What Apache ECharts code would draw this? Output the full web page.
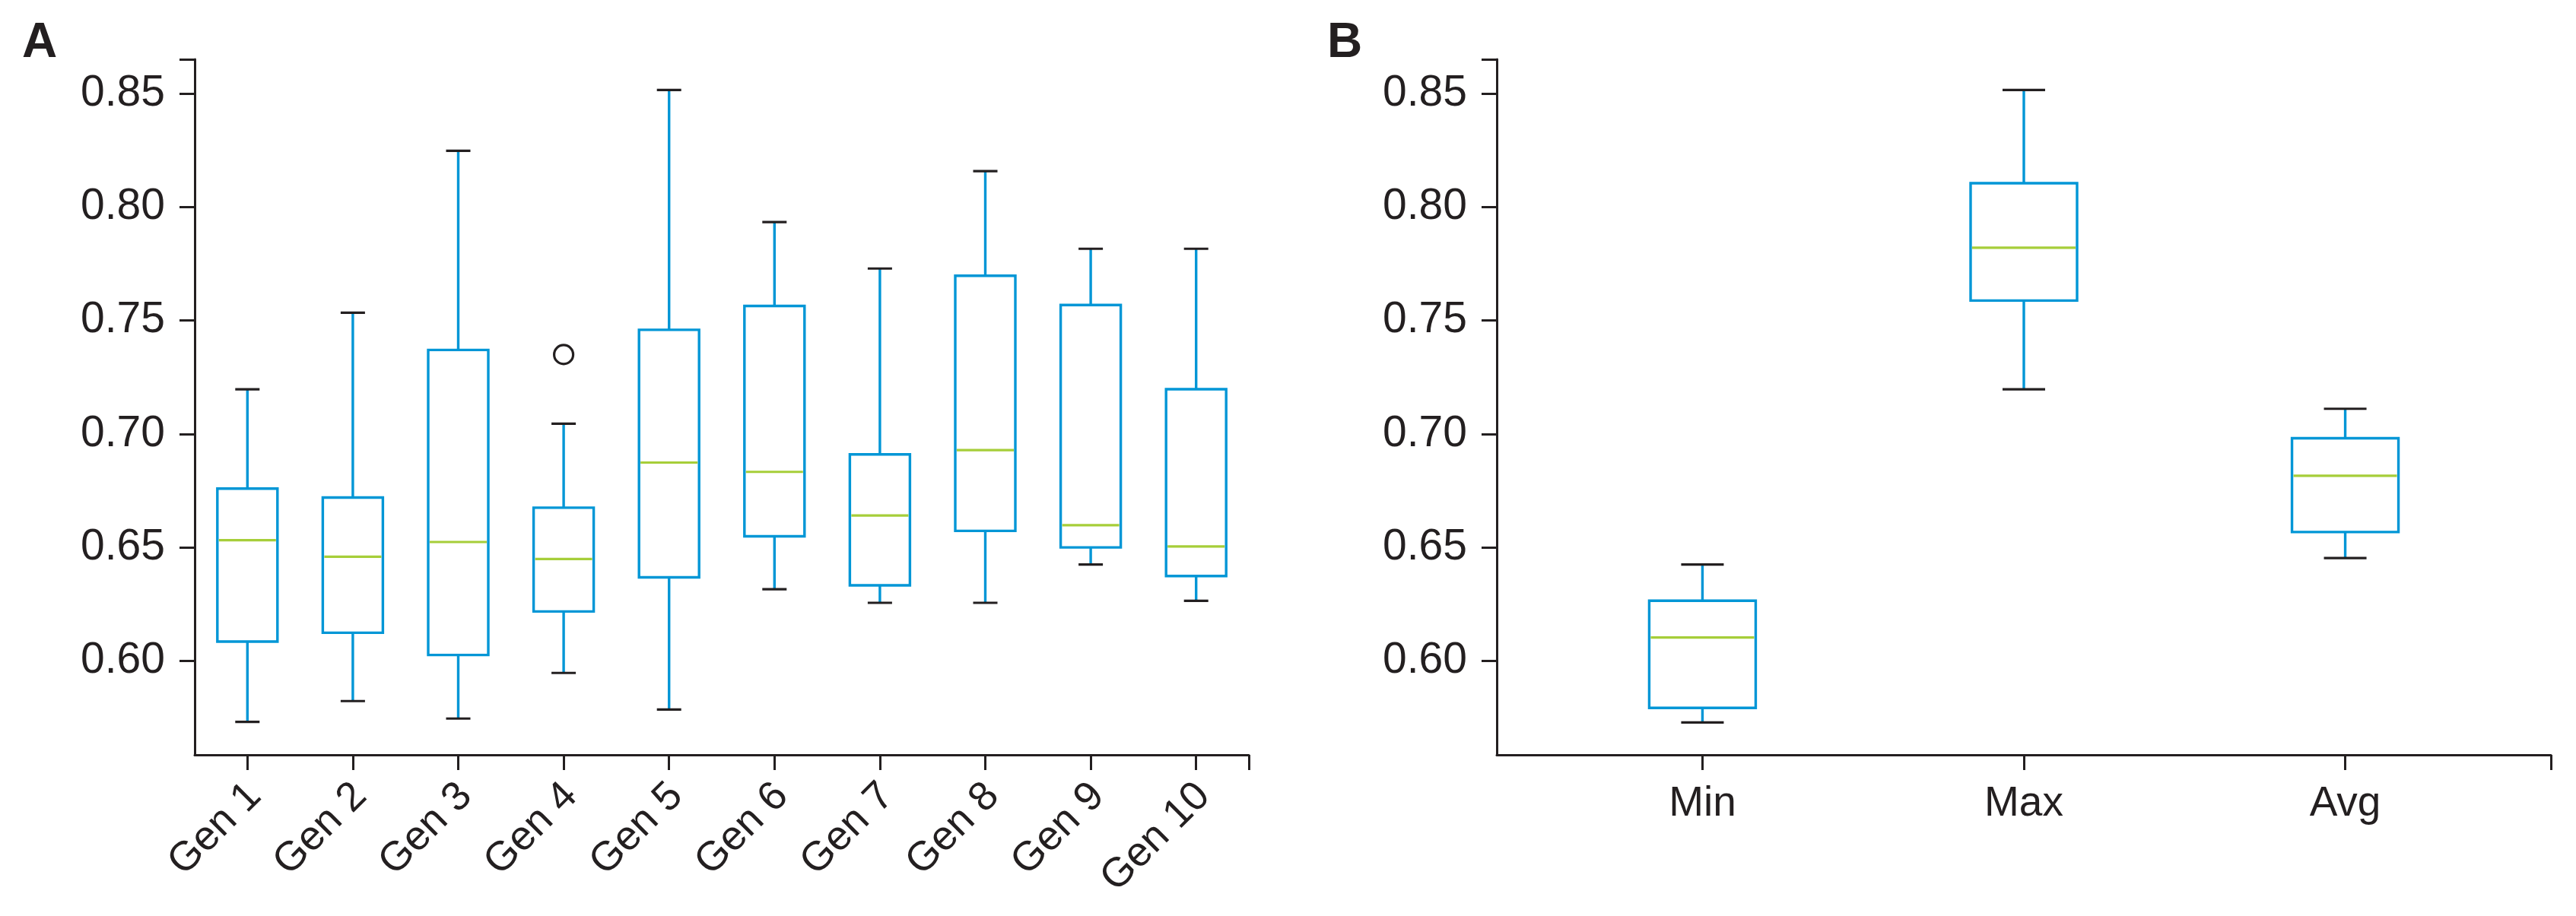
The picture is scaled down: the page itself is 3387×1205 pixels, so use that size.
<!DOCTYPE html>
<html>
<head>
<meta charset="utf-8">
<script src="https://cdn.jsdelivr.net/npm/echarts@6/dist/echarts.min.js"></script>
<style>
html,body{margin:0;padding:0;background:#fff;}
#chart{width:3387px;height:1205px;}
</style>
</head>
<body>
<div id="chart"></div>
<script>
// ---- Panel A data (per generation) ----
var genLabels = ['Gen 1','Gen 2','Gen 3','Gen 4','Gen 5','Gen 6','Gen 7','Gen 8','Gen 9','Gen 10'];
var genMin    = [0.5731, 0.5823, 0.5746, 0.5947, 0.5786, 0.6316, 0.6256, 0.6256, 0.6425, 0.6265];
var genQ1     = [0.6085, 0.6124, 0.6026, 0.6218, 0.6368, 0.6549, 0.6333, 0.6573, 0.6500, 0.6374];
var genMedian = [0.6532, 0.6459, 0.6524, 0.6449, 0.6874, 0.6833, 0.6641, 0.6929, 0.6598, 0.6504];
var genQ3     = [0.6759, 0.6720, 0.7370, 0.6675, 0.7459, 0.7564, 0.6910, 0.7697, 0.7568, 0.7197];
var genMax    = [0.7197, 0.7534, 0.8248, 0.7045, 0.8516, 0.7934, 0.7729, 0.8158, 0.7816, 0.7816];
var outlierGen   = ['Gen 4'];
var outlierValue = [0.735];

// ---- Panel B data (summary statistics) ----
var statLabels = ['Min','Max','Avg'];
var statMin    = [0.5729, 0.7197, 0.6453];
var statQ1     = [0.5793, 0.7588, 0.6568];
var statMedian = [0.6103, 0.7821, 0.6816];
var statQ3     = [0.6265, 0.8105, 0.6981];
var statMax    = [0.6425, 0.8516, 0.7111];

// ---- Axis ticks ----
var yTickLabels = [0.60, 0.65, 0.70, 0.75, 0.80, 0.85];
var yMin = 0.5586, yMax = 0.8651;

var BLUE = '#0096d6', GREEN = '#a6ce39', BLACK = '#231f20';
var FONT = '"Liberation Sans", Arial, Helvetica, sans-serif';
var LW = 3.4;

function buildBoxData(mins, q1s, meds, q3s, maxs) {
  return mins.map(function (v, i) { return [i + 1, v, q1s[i], meds[i], q3s[i], maxs[i]]; });
}

function makeRender(boxW, capW) {
  return function (params, api) {
    var x = api.value(0);
    var lo = api.coord([x, api.value(1)]);
    var q1 = api.coord([x, api.value(2)]);
    var md = api.coord([x, api.value(3)]);
    var q3 = api.coord([x, api.value(4)]);
    var hi = api.coord([x, api.value(5)]);
    var cx = lo[0], hb = boxW / 2, hc = capW / 2;
    return {
      type: 'group',
      children: [
        {type: 'line', shape: {x1: cx, y1: q1[1], x2: cx, y2: lo[1]}, style: {stroke: BLUE, lineWidth: LW}},
        {type: 'line', shape: {x1: cx, y1: q3[1], x2: cx, y2: hi[1]}, style: {stroke: BLUE, lineWidth: LW}},
        {type: 'line', shape: {x1: cx - hc, y1: lo[1], x2: cx + hc, y2: lo[1]}, style: {stroke: BLACK, lineWidth: 3.2}},
        {type: 'line', shape: {x1: cx - hc, y1: hi[1], x2: cx + hc, y2: hi[1]}, style: {stroke: BLACK, lineWidth: 3.2}},
        {type: 'rect', shape: {x: cx - hb, y: q3[1], width: boxW, height: q1[1] - q3[1]}, style: {fill: '#fff', stroke: BLUE, lineWidth: LW}},
        {type: 'line', shape: {x1: cx - hb + 2, y1: md[1], x2: cx + hb - 2, y2: md[1]}, style: {stroke: GREEN, lineWidth: 3.2}}
      ]
    };
  };
}

function yAxisCfg(gi) {
  return {
    type: 'value', gridIndex: gi, min: yMin, max: yMax,
    splitLine: {show: false},
    axisLine: {show: true, lineStyle: {color: BLACK, width: 3}},
    axisTick: {show: true, length: 20, inside: false, lineStyle: {color: BLACK, width: 3},
               customValues: yTickLabels.concat([yMax])},
    axisLabel: {show: true, customValues: yTickLabels, margin: 39, color: BLACK, fontSize: 57, fontFamily: FONT,
                formatter: function (v) { return v.toFixed(2); }}
  };
}

var genTicks = genLabels.map(function (d, i) { return i + 1; });
var statTicks = statLabels.map(function (d, i) { return i + 1; });
var rotLabelShift = 0.07; // small horizontal nudge of rotated label anchors

var option = {
  animation: false,
  backgroundColor: '#fff',
  grid: [
    {left: 256, top: 78, width: 1386, height: 915},
    {left: 1968, top: 78, width: 1386, height: 915}
  ],
  xAxis: [
    {
      type: 'value', gridIndex: 0, min: 0.5, max: genLabels.length + 0.5,
      splitLine: {show: false},
      axisLine: {show: true, lineStyle: {color: BLACK, width: 3}},
      axisTick: {show: true, length: 20, lineStyle: {color: BLACK, width: 3},
                 customValues: genTicks.concat([genLabels.length + 0.5])},
      axisLabel: {show: true, customValues: genTicks.map(function (t) { return t + rotLabelShift; }),
                  rotate: 45, margin: 46, color: BLACK, fontSize: 54, fontFamily: FONT,
                  formatter: function (v) { return genLabels[Math.round(v) - 1] || ''; }}
    },
    {
      type: 'value', gridIndex: 1, min: 0.36, max: 3.64,
      splitLine: {show: false},
      axisLine: {show: true, lineStyle: {color: BLACK, width: 3}},
      axisTick: {show: true, length: 20, lineStyle: {color: BLACK, width: 3},
                 customValues: statTicks.concat([3.64])},
      axisLabel: {show: true, customValues: statTicks, margin: 37, color: BLACK, fontSize: 55, fontFamily: FONT,
                  formatter: function (v) { return statLabels[Math.round(v) - 1] || ''; }}
    }
  ],
  yAxis: [yAxisCfg(0), yAxisCfg(1)],
  graphic: [
    {type: 'text', left: 29, top: 25, style: {text: 'A', font: 'bold 64px ' + FONT, fill: BLACK}},
    {type: 'text', left: 1745, top: 25, style: {text: 'B', font: 'bold 64px ' + FONT, fill: BLACK}}
  ],
  series: [
    {
      type: 'custom', xAxisIndex: 0, yAxisIndex: 0,
      renderItem: makeRender(79, 32),
      encode: {x: 0, y: [1, 2, 3, 4, 5]},
      data: buildBoxData(genMin, genQ1, genMedian, genQ3, genMax)
    },
    {
      type: 'scatter', xAxisIndex: 0, yAxisIndex: 0,
      symbol: 'circle', symbolSize: 25,
      itemStyle: {color: '#fff', borderColor: BLACK, borderWidth: 3.2, opacity: 1},
      data: outlierGen.map(function (g, i) { return [genLabels.indexOf(g) + 1, outlierValue[i]]; })
    },
    {
      type: 'custom', xAxisIndex: 1, yAxisIndex: 1,
      renderItem: makeRender(140, 56),
      encode: {x: 0, y: [1, 2, 3, 4, 5]},
      data: buildBoxData(statMin, statQ1, statMedian, statQ3, statMax)
    }
  ]
};

var chart = echarts.init(document.getElementById('chart'), null, {renderer: 'canvas'});
chart.setOption(option);
</script>
</body>
</html>
